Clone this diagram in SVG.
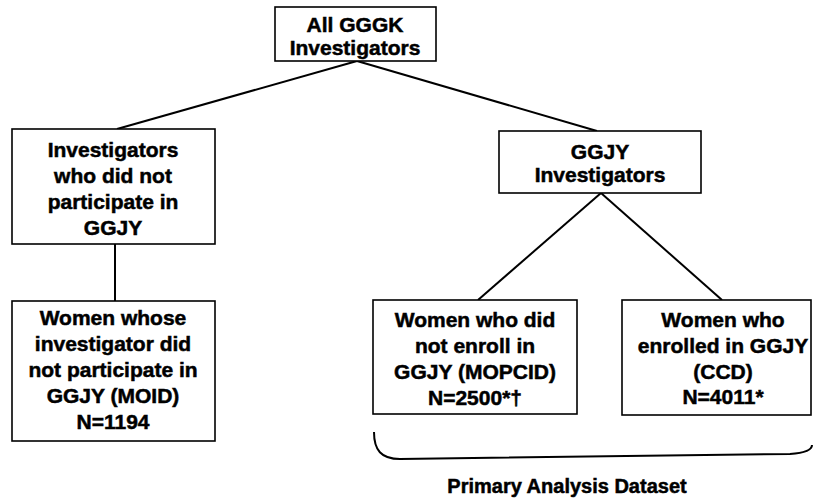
<svg xmlns="http://www.w3.org/2000/svg" width="813" height="502" viewBox="0 0 813 502">
<style>
.box{fill:#fff;stroke:#000;stroke-width:1.6}
.t{font-family:"Liberation Sans",Arial,sans-serif;font-weight:bold;font-size:21px;fill:#000;stroke:#000;stroke-width:0.5;text-anchor:middle}
.c{fill:none;stroke:#000;stroke-width:2}
</style>
<rect width="813" height="502" fill="#fff"/>
<g id="connectors">
<line class="c" x1="357" y1="61" x2="117" y2="129"/>
<line class="c" x1="357" y1="61" x2="597" y2="131"/>
<line class="c" x1="115" y1="244" x2="115" y2="301"/>
<line class="c" x1="601" y1="193" x2="478" y2="300"/>
<line class="c" x1="601" y1="193" x2="722" y2="300"/>
</g>
<g id="n-all">
<rect class="box" x="275" y="7" width="161" height="54"/>
<text class="t" x="355" y="32">All GGGK</text>
<text class="t" x="355" y="55">Investigators</text>
</g>
<g id="n-notpart">
<rect class="box" x="12" y="129" width="203" height="115"/>
<text class="t" x="113" y="157">Investigators</text>
<text class="t" x="113" y="183">who did not</text>
<text class="t" x="113" y="209">participate in</text>
<text class="t" x="113" y="235">GGJY</text>
</g>
<g id="n-moid">
<rect class="box" x="12" y="301" width="203" height="140"/>
<text class="t" x="113" y="325">Women whose</text>
<text class="t" x="113" y="351">investigator did</text>
<text class="t" x="113" y="377">not participate in</text>
<text class="t" x="113" y="403">GGJY (MOID)</text>
<text class="t" x="113" y="429">N=1194</text>
</g>
<g id="n-ggjy">
<rect class="box" x="499" y="131" width="202" height="62"/>
<text class="t" x="600" y="159">GGJY</text>
<text class="t" x="600" y="182">Investigators</text>
</g>
<g id="n-mopcid">
<rect class="box" x="373" y="300" width="204" height="114"/>
<text class="t" x="475" y="327">Women who did</text>
<text class="t" x="475" y="353">not enroll in</text>
<text class="t" x="475" y="379">GGJY (MOPCID)</text>
<text class="t" x="475" y="405">N=2500*†</text>
</g>
<g id="n-ccd">
<rect class="box" x="622" y="300" width="189" height="115"/>
<text class="t" x="723" y="327">Women who</text>
<text class="t" x="723" y="353">enrolled in GGJY</text>
<text class="t" x="723" y="379">(CCD)</text>
<text class="t" x="723" y="404">N=4011*</text>
</g>
<g id="brace">
<path class="c" d="M374,432 C374,450 381,459 400,459 L790,454 C804,453 812,450 812,445"/>
<text class="t" x="567" y="493" style="font-size:20px">Primary Analysis Dataset</text>
</g>
</svg>
